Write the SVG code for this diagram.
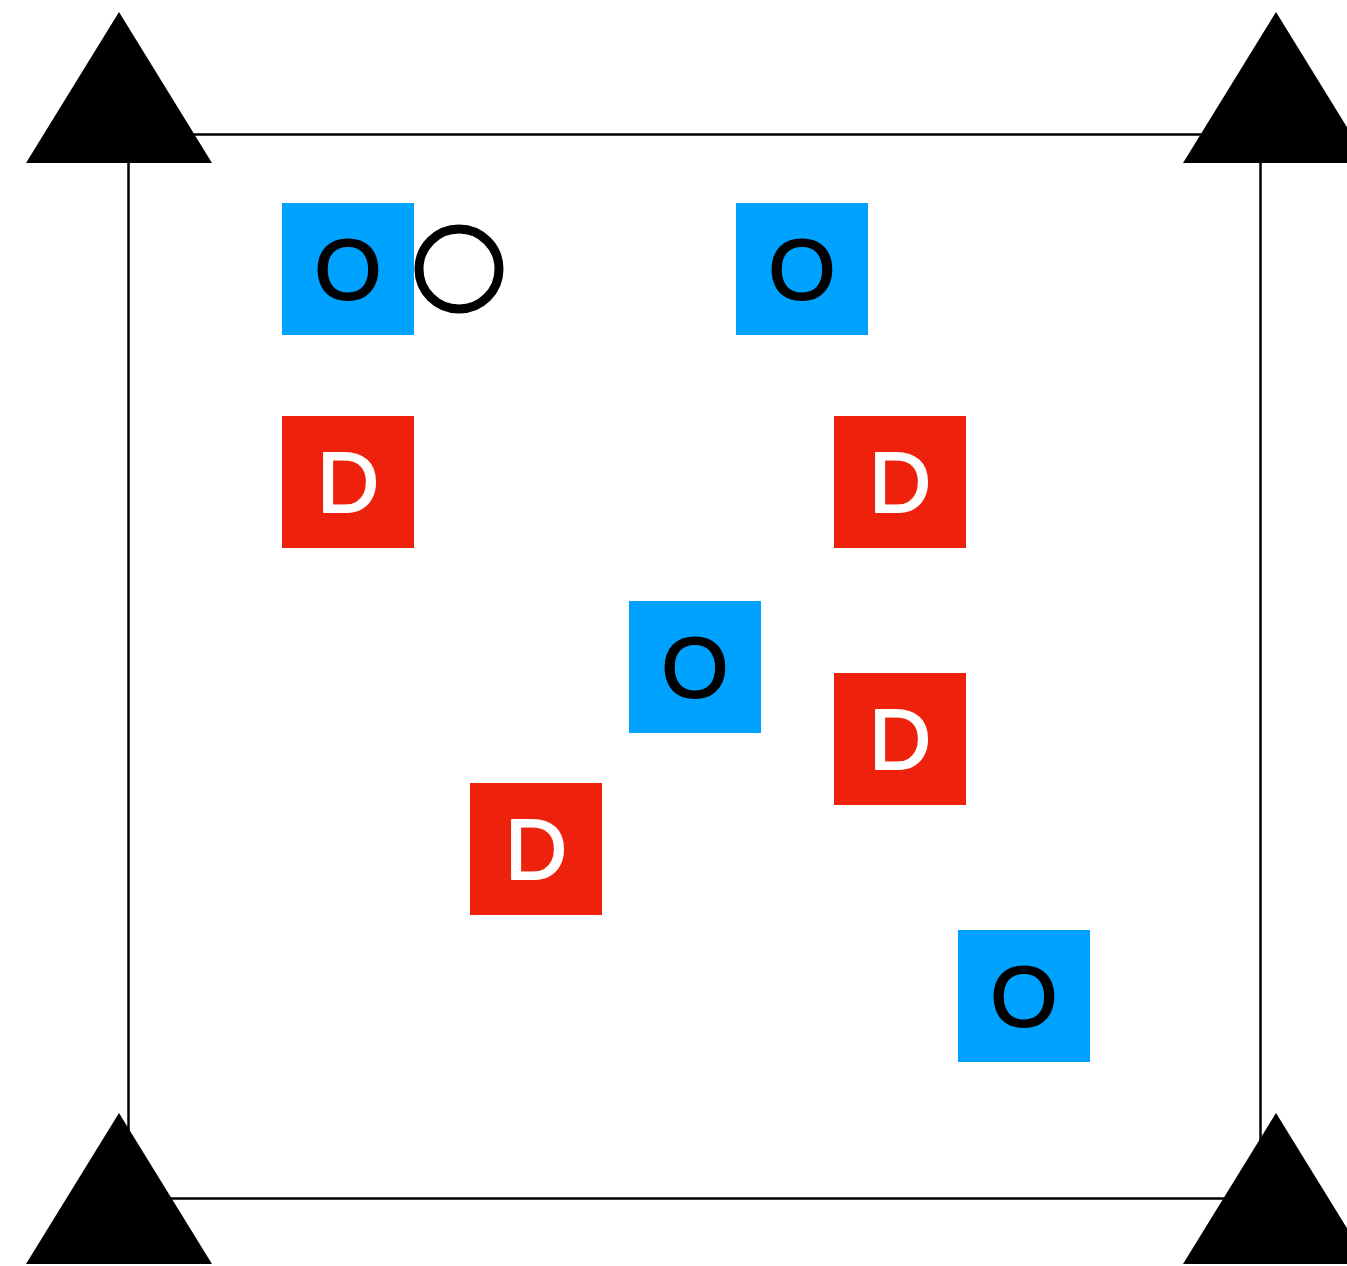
<svg xmlns="http://www.w3.org/2000/svg" width="1347" height="1266" viewBox="0 0 1347 1266">
<style>
.b{fill:#00A2FF}
.r{fill:#EE220C}
.t{font-family:"Liberation Sans",Arial,sans-serif;font-size:86px;text-anchor:middle;stroke-width:2px;stroke-linejoin:round}
.tb{fill:#000;stroke:#000}
.tw{fill:#fff;stroke:#fff}
.tri{fill:#000}
</style>
<rect width="1347" height="1266" fill="#fff"/>
<g id="connectors">
<rect x="128.5" y="134.5" width="1132" height="1064" fill="none" stroke="#000" stroke-width="2.5"/>
</g>
<g id="tri-tl"><polygon class="tri" points="119,12 212,163 26,163"/></g>
<g id="tri-tr"><polygon class="tri" points="1276,12 1369,163 1183,163"/></g>
<g id="tri-bl"><polygon class="tri" points="119,1113 212,1264 26,1264"/></g>
<g id="tri-br"><polygon class="tri" points="1276,1113 1369,1264 1183,1264"/></g>
<g id="o1"><rect class="b" x="282" y="203" width="132" height="132"/><text class="t tb" x="348" y="299">O</text></g>
<g id="circle"><circle cx="459" cy="269" r="40" fill="none" stroke="#000" stroke-width="9"/></g>
<g id="o2"><rect class="b" x="736" y="203" width="132" height="132"/><text class="t tb" x="802" y="299">O</text></g>
<g id="d1"><rect class="r" x="282" y="416" width="132" height="132"/><text class="t tw" x="348" y="512">D</text></g>
<g id="d2"><rect class="r" x="834" y="416" width="132" height="132"/><text class="t tw" x="900" y="512">D</text></g>
<g id="o3"><rect class="b" x="629" y="601" width="132" height="132"/><text class="t tb" x="695" y="697">O</text></g>
<g id="d3"><rect class="r" x="834" y="673" width="132" height="132"/><text class="t tw" x="900" y="769">D</text></g>
<g id="d4"><rect class="r" x="470" y="783" width="132" height="132"/><text class="t tw" x="536" y="879">D</text></g>
<g id="o4"><rect class="b" x="958" y="930" width="132" height="132"/><text class="t tb" x="1024" y="1026">O</text></g>
</svg>
